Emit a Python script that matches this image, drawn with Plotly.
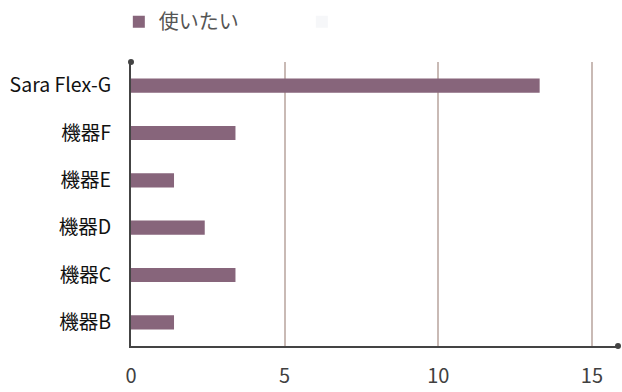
import plotly.graph_objects as go

categories = ["機器B", "機器C", "機器D", "機器E", "機器F", "Sara Flex-G"]
values = [1.4, 3.4, 2.4, 1.4, 3.4, 13.3]
series_name = "使いたい"
x_ticks = [0, 5, 10, 15]

bar_color = "#87657b"
grid_color = "#c9bab5"
axis_color = "#444444"
font_family = "Noto Sans CJK JP, Noto Sans, sans-serif"

fig = go.Figure()
fig.add_trace(go.Bar(
    y=categories, x=values, orientation="h", name=series_name,
    marker=dict(color=bar_color, line=dict(width=0)), width=0.3,
))
fig.add_trace(go.Bar(
    y=categories, x=[0] * len(categories), orientation="h", name=" ",
    marker=dict(color="#f6f7f9", line=dict(width=0)), width=0.3, hoverinfo="skip",
))

fig.update_layout(
    width=622, height=392,
    margin=dict(l=131, r=4, t=62, b=46, autoexpand=False),
    paper_bgcolor="white", plot_bgcolor="white",
    barmode="overlay",
    font=dict(family=font_family),
    showlegend=True,
    legend=dict(
        orientation="h", x=-0.025, y=1.142, xanchor="left", yanchor="middle",
        font=dict(size=20, color="#555555"), entrywidth=138, itemwidth=30,
        traceorder="normal",
    ),
    xaxis=dict(
        range=[0, 15.85], tickvals=x_ticks, ticktext=[str(v) for v in x_ticks],
        showgrid=True, gridcolor=grid_color, gridwidth=2,
        showline=True, linecolor=axis_color, linewidth=2,
        zeroline=False, ticks="", ticklabelstandoff=11,
        tickfont=dict(size=20, color="#404040"),
    ),
    yaxis=dict(
        categoryorder="array", categoryarray=categories,
        range=[-0.5, 5.5],
        showgrid=False, showline=True, linecolor=axis_color, linewidth=2,
        zeroline=False, ticks="", ticklabelstandoff=14,
        tickfont=dict(size=19.5, color="#111111"),
    ),
    shapes=[
        dict(type="circle", xref="paper", yref="paper", xsizemode="pixel", ysizemode="pixel",
             xanchor=0, yanchor=1, x0=-3, x1=3, y0=-3, y1=3,
             fillcolor=axis_color, line=dict(width=0)),
        dict(type="circle", xref="paper", yref="paper", xsizemode="pixel", ysizemode="pixel",
             xanchor=1, yanchor=0, x0=-3, x1=3, y0=-3, y1=3,
             fillcolor=axis_color, line=dict(width=0)),
    ],
)

fig.write_html("out.html")
